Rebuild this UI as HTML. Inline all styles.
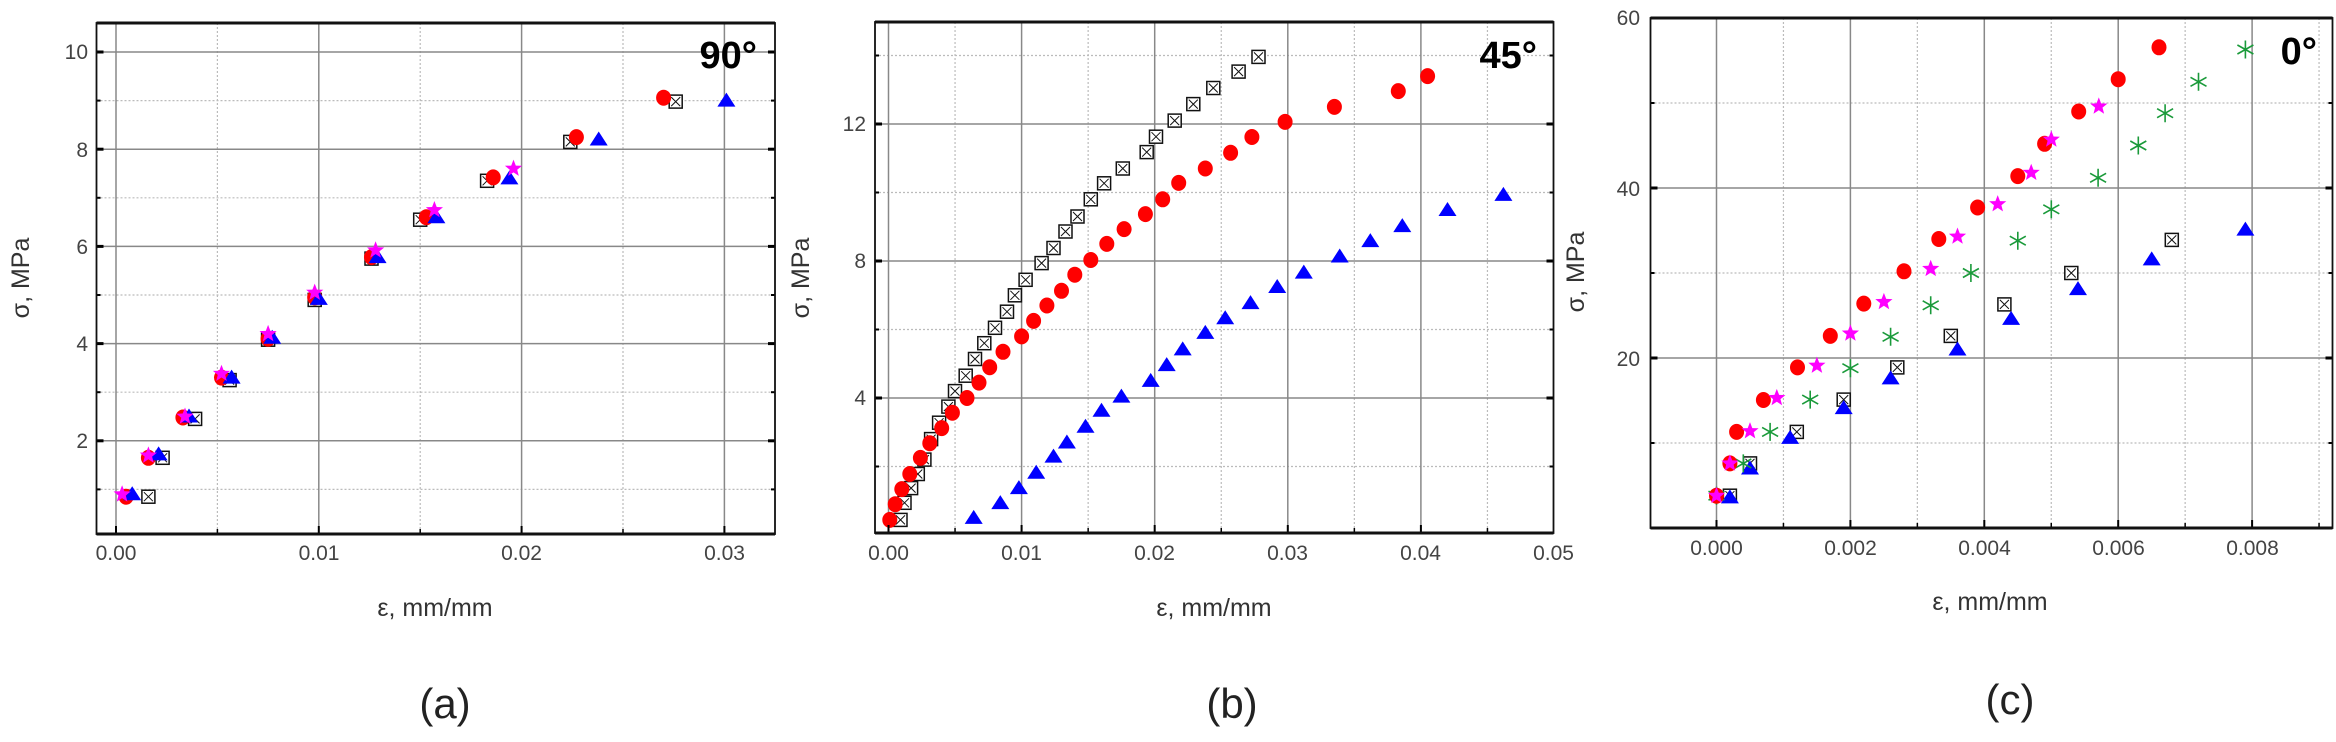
<!DOCTYPE html>
<html><head><meta charset="utf-8">
<style>
html,body{margin:0;padding:0;background:#fff;}
svg{display:block;}
.t{font-family:"Liberation Sans",sans-serif;font-size:21px;fill:#444;}
.al{font-family:"Liberation Sans",sans-serif;font-size:25px;fill:#333;}
.ttl{font-family:"Liberation Sans",sans-serif;font-size:38px;font-weight:bold;fill:#000;}
.sub{font-family:"Liberation Sans",sans-serif;font-size:42px;fill:#222;}
</style></head>
<body>
<svg id="s" width="2336" height="742" viewBox="0 0 2336 742" xmlns="http://www.w3.org/2000/svg">
<defs>
<g id="mc"><ellipse cx="0" cy="0" rx="7.5" ry="8" fill="#ff0000"/></g>
<g id="mt"><polygon points="0,-8 9,6 -9,6" fill="#0000ff"/></g>
<g id="ms"><rect x="-6.5" y="-6.5" width="13" height="13" fill="#fff" stroke="#111" stroke-width="1.5"/><path d="M-4.5,-4.5L4.5,4.5M4.5,-4.5L-4.5,4.5" stroke="#111" stroke-width="1"/></g>
<g id="mstar"><polygon points="0,-9 2.3,-3 8.6,-2.8 3.7,1.2 5.3,7.3 0,3.8 -5.3,7.3 -3.7,1.2 -8.6,-2.8 -2.3,-3" fill="#ff00ff"/></g>
<g id="mast" stroke="#1a9a3a" stroke-width="1.6"><path d="M0,-9V9M-8,-4.5L8,4.5M-8,4.5L8,-4.5"/></g>
</defs>
<g id="grid"></g>
<g id="pts"></g>
<g id="frames"></g>

<text class="t" x="88" y="59" text-anchor="end">10</text>
<text class="t" x="88" y="157" text-anchor="end">8</text>
<text class="t" x="88" y="254" text-anchor="end">6</text>
<text class="t" x="88" y="351" text-anchor="end">4</text>
<text class="t" x="88" y="448" text-anchor="end">2</text>
<text class="t" x="116" y="560" text-anchor="middle">0.00</text>
<text class="t" x="319" y="560" text-anchor="middle">0.01</text>
<text class="t" x="521.5" y="560" text-anchor="middle">0.02</text>
<text class="t" x="724.5" y="560" text-anchor="middle">0.03</text>
<text class="al" x="435" y="616" text-anchor="middle">ε, mm/mm</text>
<text class="al" transform="translate(29,278) rotate(-90)" text-anchor="middle">σ, MPa</text>
<text class="ttl" x="757" y="68" text-anchor="end">90°</text>
<text class="sub" x="445" y="718" text-anchor="middle">(a)</text>

<text class="t" x="866" y="131" text-anchor="end">12</text>
<text class="t" x="866" y="268" text-anchor="end">8</text>
<text class="t" x="866" y="405" text-anchor="end">4</text>
<text class="t" x="888.5" y="560" text-anchor="middle">0.00</text>
<text class="t" x="1021.5" y="560" text-anchor="middle">0.01</text>
<text class="t" x="1154.5" y="560" text-anchor="middle">0.02</text>
<text class="t" x="1287.5" y="560" text-anchor="middle">0.03</text>
<text class="t" x="1420.5" y="560" text-anchor="middle">0.04</text>
<text class="t" x="1553.5" y="560" text-anchor="middle">0.05</text>
<text class="al" x="1214" y="616" text-anchor="middle">ε, mm/mm</text>
<text class="al" transform="translate(809,278) rotate(-90)" text-anchor="middle">σ, MPa</text>
<text class="ttl" x="1537" y="68" text-anchor="end">45°</text>
<text class="sub" x="1232" y="718" text-anchor="middle">(b)</text>

<text class="t" x="1640" y="25" text-anchor="end">60</text>
<text class="t" x="1640" y="196" text-anchor="end">40</text>
<text class="t" x="1640" y="366" text-anchor="end">20</text>
<text class="t" x="1716.5" y="555" text-anchor="middle">0.000</text>
<text class="t" x="1850.5" y="555" text-anchor="middle">0.002</text>
<text class="t" x="1984.5" y="555" text-anchor="middle">0.004</text>
<text class="t" x="2118.5" y="555" text-anchor="middle">0.006</text>
<text class="t" x="2252.5" y="555" text-anchor="middle">0.008</text>
<text class="al" x="1990" y="610" text-anchor="middle">ε, mm/mm</text>
<text class="al" transform="translate(1584,272) rotate(-90)" text-anchor="middle">σ, MPa</text>
<text class="ttl" x="2317" y="64" text-anchor="end">0°</text>
<text class="sub" x="2010" y="714" text-anchor="middle">(c)</text>
</svg>
<script>
var NS="http://www.w3.org/2000/svg";
function el(p,n,a){var e=document.createElementNS(NS,n);for(var k in a)e.setAttribute(k,a[k]);p.appendChild(e);return e;}
var grid=document.getElementById('grid'),pts=document.getElementById('pts'),fr=document.getElementById('frames');
var P=[
 {X:function(e){return 116+e*20280},Y:function(v){return 52+(10-v)*48.6},f:[96.5,23,775,534],
  xM:[0,0.01,0.02,0.03],xm:[0.005,0.015,0.025],yM:[2,4,6,8,10],ym:[1,3,5,7,9],
  s:{
   ms:[[0.0016,0.85],[0.0023,1.65],[0.0039,2.45],[0.0056,3.25],[0.0075,4.08],[0.0098,4.9],[0.0126,5.75],[0.0150,6.55],[0.0183,7.35],[0.0224,8.15],[0.0276,8.98]],
   mc:[[0.0005,0.85],[0.0016,1.65],[0.0033,2.48],[0.0052,3.3],[0.0075,4.1],[0.0098,4.95],[0.0126,5.78],[0.0153,6.6],[0.0186,7.42],[0.0227,8.25],[0.027,9.06]],
   mt:[[0.0008,0.9],[0.0021,1.72],[0.0036,2.5],[0.0057,3.3],[0.0077,4.12],[0.0100,4.92],[0.0129,5.78],[0.0158,6.6],[0.0194,7.4],[0.0238,8.2],[0.0301,9.0]],
   mstar:[[0.0003,0.9],[0.0016,1.7],[0.0034,2.5],[0.0052,3.38],[0.0075,4.2],[0.0098,5.05],[0.0128,5.92],[0.0157,6.75],[0.0196,7.6]]
  },order:['ms','mc','mt','mstar']},
 {X:function(e){return 888.5+e*13310},Y:function(v){return 398+(4-v)*34.25},f:[875,22,1553.5,533],
  xM:[0,0.01,0.02,0.03,0.04],xm:[0.005,0.015,0.025,0.035,0.045],yM:[4,8,12],ym:[2,6,10,14],
  s:{
   ms:[[0.0278,13.96],[0.0263,13.53],[0.0244,13.05],[0.0229,12.58],[0.0215,12.1],[0.0201,11.63],[0.0194,11.18],[0.0176,10.7],[0.0162,10.27],[0.0152,9.8],[0.0142,9.3],[0.0133,8.86],[0.0124,8.38],[0.0115,7.94],[0.0103,7.45],[0.0095,7.0],[0.0089,6.52],[0.0080,6.05],[0.0072,5.6],[0.0065,5.14],[0.0058,4.65],[0.0050,4.2],[0.0045,3.75],[0.0038,3.28],[0.0032,2.8],[0.0027,2.2],[0.0022,1.78],[0.0017,1.37],[0.0012,0.94],[0.0009,0.44]],
   mc:[[0.0405,13.4],[0.0383,12.96],[0.0335,12.5],[0.0298,12.06],[0.0273,11.62],[0.0257,11.16],[0.0238,10.7],[0.0218,10.28],[0.0206,9.8],[0.0193,9.37],[0.0177,8.93],[0.0164,8.5],[0.0152,8.03],[0.0140,7.6],[0.0130,7.13],[0.0119,6.7],[0.0109,6.25],[0.0100,5.8],[0.0086,5.35],[0.0076,4.9],[0.0068,4.45],[0.0059,4.0],[0.0048,3.57],[0.0040,3.12],[0.0031,2.68],[0.0024,2.25],[0.0016,1.78],[0.0010,1.34],[0.0005,0.9],[0.0001,0.44]],
   mt:[[0.0462,9.93],[0.0420,9.49],[0.0386,9.02],[0.0362,8.58],[0.0339,8.13],[0.0312,7.66],[0.0292,7.24],[0.0272,6.77],[0.0253,6.33],[0.0238,5.9],[0.0221,5.42],[0.0209,4.96],[0.0197,4.5],[0.0175,4.04],[0.0160,3.63],[0.0148,3.16],[0.0134,2.7],[0.0124,2.29],[0.0111,1.82],[0.0098,1.37],[0.0084,0.93],[0.0064,0.5]]
  },order:['ms','mc','mt']},
 {X:function(e){return 1716.5+e*66950},Y:function(v){return 528-8.5*v},f:[1650.5,18,2332.5,528],
  xM:[0,0.002,0.004,0.006,0.008],xm:[0.001,0.003,0.005,0.007,0.009],yM:[20,40],ym:[10,30,50],
  s:{
   ms:[[0.0068,33.9],[0.0053,30.0],[0.0043,26.3],[0.0035,22.6],[0.0027,18.9],[0.0019,15.1],[0.0012,11.3],[0.0005,7.6],[0.0002,3.8]],
   mt:[[0.0079,35.1],[0.0065,31.6],[0.0054,28.1],[0.0044,24.6],[0.0036,21.0],[0.0026,17.6],[0.0019,14.1],[0.0011,10.6],[0.0005,7.0],[0.0002,3.6]],
   mast:[[0.0079,56.3],[0.0072,52.5],[0.0067,48.8],[0.0063,45.0],[0.0057,41.2],[0.0050,37.5],[0.0045,33.8],[0.0038,30.0],[0.0032,26.2],[0.0026,22.5],[0.0020,18.8],[0.0014,15.1],[0.0008,11.3],[0.0004,7.6],[0.0,3.8]],
   mc:[[0.00661,56.55],[0.0060,52.8],[0.00541,49.0],[0.0049,45.2],[0.0045,41.4],[0.0039,37.7],[0.00332,34.0],[0.0028,30.2],[0.0022,26.4],[0.0017,22.6],[0.00121,18.9],[0.0007,15.06],[0.0003,11.3],[0.0002,7.6],[0.0,3.8]],
   mstar:[[0.00571,49.6],[0.0050,45.7],[0.0047,41.8],[0.0042,38.1],[0.0036,34.3],[0.0032,30.5],[0.0025,26.6],[0.0020,22.9],[0.0015,19.1],[0.0009,15.3],[0.0005,11.4],[0.0002,7.6],[0.0,3.8]]
  },order:['ms','mt','mast','mc','mstar']}
];
P.forEach(function(p){
 var f=p.f;
 p.xm.forEach(function(e){var x=p.X(e);if(x<f[2]-1)el(grid,'line',{x1:x,y1:f[1],x2:x,y2:f[3],stroke:'#bbb','stroke-width':1.2,'stroke-dasharray':'2,2'});});
 p.ym.forEach(function(v){var y=p.Y(v);el(grid,'line',{x1:f[0],y1:y,x2:f[2],y2:y,stroke:'#bbb','stroke-width':1.2,'stroke-dasharray':'2,2'});});
 p.xM.forEach(function(e){var x=p.X(e);if(x<f[2]-2)el(grid,'line',{x1:x,y1:f[1],x2:x,y2:f[3],stroke:'#888','stroke-width':1.5});
   el(fr,'line',{x1:x,y1:f[3],x2:x,y2:f[3]-8,stroke:'#000','stroke-width':2});});
 p.yM.forEach(function(v){var y=p.Y(v);if(y>f[1]+2)el(grid,'line',{x1:f[0],y1:y,x2:f[2],y2:y,stroke:'#888','stroke-width':1.5});
   el(fr,'line',{x1:f[0],y1:y,x2:f[0]+7,y2:y,stroke:'#000','stroke-width':3});
   el(fr,'line',{x1:f[2],y1:y,x2:f[2]-7,y2:y,stroke:'#000','stroke-width':3});});
 p.ym.forEach(function(v){var y=p.Y(v);
   el(fr,'line',{x1:f[0],y1:y,x2:f[0]+4,y2:y,stroke:'#000','stroke-width':2});
   el(fr,'line',{x1:f[2],y1:y,x2:f[2]-4,y2:y,stroke:'#000','stroke-width':2});});
 p.xm.forEach(function(e){var x=p.X(e);if(x<f[2]-1)el(fr,'line',{x1:x,y1:f[3],x2:x,y2:f[3]-5,stroke:'#000','stroke-width':1.5});});
 el(fr,'rect',{x:f[0],y:f[1],width:f[2]-f[0],height:f[3]-f[1],fill:'none',stroke:'#111','stroke-width':1.8});
 el(fr,'line',{x1:f[0],y1:f[1],x2:f[2],y2:f[1],stroke:'#111','stroke-width':3});
 el(fr,'line',{x1:f[0],y1:f[3],x2:f[2],y2:f[3],stroke:'#111','stroke-width':3});
 p.order.forEach(function(k){p.s[k].forEach(function(d){
   var u=el(pts,'use',{x:p.X(d[0]).toFixed(1),y:p.Y(d[1]).toFixed(1)});
   u.setAttribute('href','#'+k);u.setAttributeNS('http://www.w3.org/1999/xlink','xlink:href','#'+k);
 });});
});
</script>
</body></html>
